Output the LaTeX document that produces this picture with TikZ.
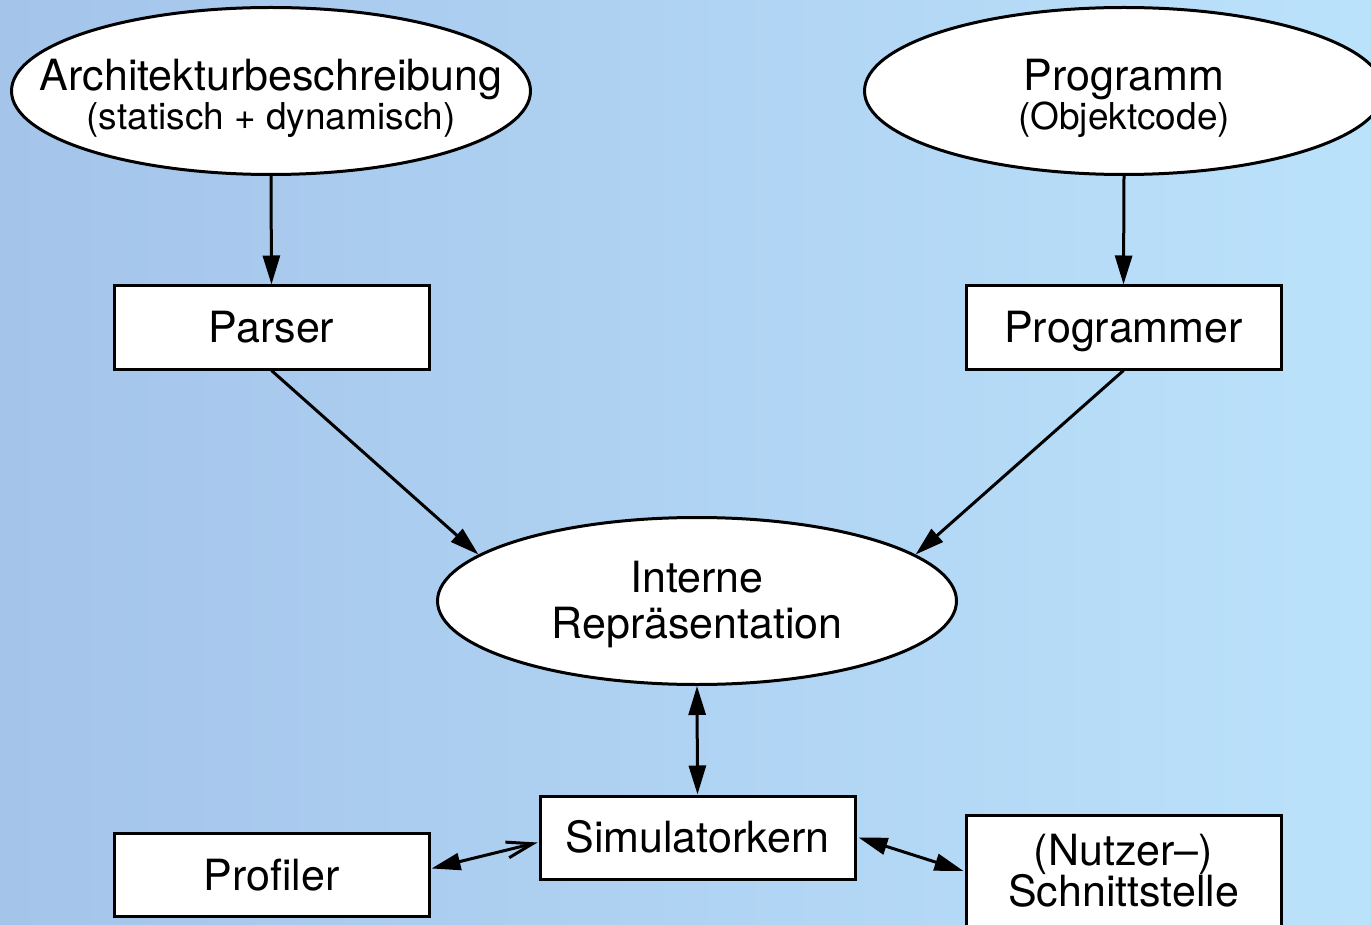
\documentclass[tikz,border=0pt]{standalone}
\usepackage{fontspec}
\setmainfont{TeX Gyre Heros}
\usetikzlibrary{shapes.geometric,arrows.meta,calc}

\definecolor{bgleft}{RGB}{164,196,234}
\definecolor{bgright}{RGB}{187,226,251}

\tikzset{
  every picture/.style={x=1pt,y=-1pt},
  blob/.style={ellipse,draw=black,fill=white,line width=3pt,
               minimum width=519pt,minimum height=167pt,inner sep=0pt},
  unit/.style={rectangle,draw=black,fill=white,line width=3pt,
               minimum width=315pt,minimum height=83pt,inner sep=0pt},
  bigtxt/.style={anchor=base,inner sep=0pt,font=\fontsize{43}{46}\selectfont},
  smalltxt/.style={anchor=base,inner sep=0pt,font=\fontsize{37}{40}\selectfont},
  flow/.style={line width=3pt,-{Triangle[length=29pt,width=17pt]}},
  both/.style={line width=3pt,{Triangle[length=29pt,width=17pt]}-{Triangle[length=29pt,width=17pt]}},
  mixed/.style={line width=3pt,{Triangle[length=29pt,width=17pt]}-{Straight Barb[length=26pt,width=16pt]}},
}

\begin{document}
\begin{tikzpicture}
  % background
  \useasboundingbox (0,0) rectangle (1371,925);
  \clip (0,0) rectangle (1371,925);
  \shade[left color=bgleft,right color=bgright] (0,0) rectangle (1371,925);

  % inputs
  \node[blob] (arch) at (271,91) {};
  \node[bigtxt] (archA) at (271,91) {Architekturbeschreibung};
  \node[smalltxt] (archB) at (271,130) {(statisch + dynamisch)};

  \node[blob] (prog) at (1124,91) {};
  \node[bigtxt] (progA) at (1124,91) {Programm};
  \node[smalltxt] (progB) at (1124,130) {(Objektcode)};

  % front ends
  \node[unit] (parser) at (271.5,327.5) {};
  \node[bigtxt] (parserT) at (271.5,342) {Parser};
  \node[unit] (pgmr) at (1123.5,327.5) {};
  \node[bigtxt] (pgmrT) at (1123.5,342) {Programmer};

  % internal representation
  \node[blob] (intern) at (697,601) {};
  \node[bigtxt] (internA) at (697,592) {Interne};
  \node[bigtxt] (internB) at (697,638) {Repräsentation};

  % simulator and its neighbours
  \node[unit] (sim) at (697.5,837.5) {};
  \node[bigtxt] (simT) at (697.5,852) {Simulatorkern};
  \node[unit] (prof) at (271.5,874.5) {};
  \node[bigtxt] (profT) at (271.5,890) {Profiler};
  \node[unit,anchor=north,minimum height=125pt] (ui) at (1123.5,814) {};
  \node[bigtxt] (uiA) at (1123.5,865) {(Nutzer–)};
  \node[bigtxt] (uiB) at (1123.5,906) {Schnittstelle};

  % connectors
  \draw[flow] (arch.south) -- (parser.north);
  \draw[flow] (prog.south) -- (pgmr.north);
  \draw[flow] (parser.south) -- (intern.168);
  \draw[flow] (pgmr.south) -- (intern.12);
  \draw[both] (intern.south) -- (sim.north);
  \draw[mixed] ($(prof.east)+(1,-6)$) -- ($(sim.west)+(-1,5)$);
  \draw[both] ($(sim.east)+(2,0)$) -- ($(ui.west)+(-1,-7)$);
\end{tikzpicture}
\end{document}
